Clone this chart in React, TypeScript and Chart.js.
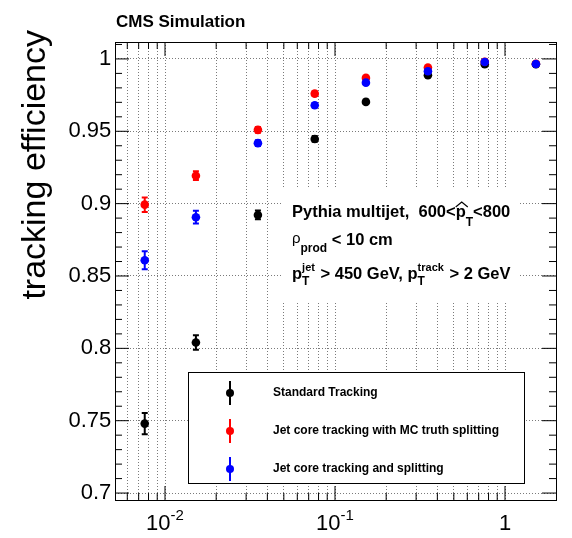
import React, { useEffect, useRef } from "react";
import { Chart, registerables } from "chart.js";

Chart.register(...registerables);

// ---------- data ----------
const xValues = [0.0076, 0.0152, 0.0352, 0.076, 0.152, 0.352, 0.76, 1.52];

const standardEff = [0.748, 0.804, 0.8922, 0.9447, 0.9703, 0.9887, 0.9963, 0.9963];
const standardErr = [0.0074, 0.005, 0.003, 0.002, 0.0015, 0.001, 0.001, 0.001];

const mcTruthEff = [0.8993, 0.9193, 0.951, 0.976, 0.9869, 0.994, 0.998, 0.9967];
const mcTruthErr = [0.005, 0.003, 0.002, 0.0015, 0.001, 0.001, 0.0008, 0.0008];

const splitEff = [0.8609, 0.8906, 0.9418, 0.968, 0.9836, 0.9915, 0.9979, 0.9965];
const splitErr = [0.0062, 0.0044, 0.002, 0.0015, 0.001, 0.001, 0.0008, 0.0008];

const legendLabels = [
  "Standard Tracking",
  "Jet core tracking with MC truth splitting",
  "Jet core tracking and splitting",
];
const seriesColors = ["#000000", "#ff0000", "#0000ff"];

const yMajorTicks = [0.7, 0.75, 0.8, 0.85, 0.9, 0.95, 1];
const yTickLabels = ["0.7", "0.75", "0.8", "0.85", "0.9", "0.95", "1"];
const xGridTicks = [
  0.006, 0.007, 0.008, 0.009,
  0.01, 0.02, 0.03, 0.04, 0.05, 0.06, 0.07, 0.08, 0.09,
  0.1, 0.2, 0.3, 0.4, 0.5, 0.6, 0.7, 0.8, 0.9,
  1,
];
const xMajorTicks = [0.01, 0.1, 1];
const xTickBase = ["10", "10", "1"];
const xTickExp = ["-2", "-1", ""];

const xMin = 0.00508;
const xMax = 1.995;
const yMin = 0.6952;
const yMax = 1.0117;

const FONT = '"Liberation Sans", Arial, Helvetica, sans-serif';
const MAIN = 16.5;

type Seg = { t: string; size: number; bold?: boolean; dy?: number };

function drawSegs(ctx: CanvasRenderingContext2D, x: number, y: number, segs: Seg[]) {
  let cx = x;
  for (const s of segs) {
    ctx.font = `${s.bold === false ? "" : "bold "}${s.size}px ${FONT}`;
    ctx.fillText(s.t, cx, y + (s.dy || 0));
    cx += ctx.measureText(s.t).width;
  }
  return cx;
}

function drawSupSub(ctx: CanvasRenderingContext2D, x: number, y: number, base: string, sup: string, sub: string) {
  ctx.font = `bold ${MAIN}px ${FONT}`;
  ctx.fillText(base, x, y);
  let cx = x + ctx.measureText(base).width;
  ctx.font = `bold 11px ${FONT}`;
  ctx.fillText(sup, cx, y - 8);
  const w1 = ctx.measureText(sup).width;
  ctx.font = `bold 12px ${FONT}`;
  ctx.fillText(sub, cx, y + 6);
  const w2 = ctx.measureText(sub).width;
  return cx + Math.max(w1, w2) + 1;
}

const errorsByDataset: number[][] = [splitErr, mcTruthErr, standardErr];
const valuesByDataset: number[][] = [splitEff, mcTruthEff, standardEff];

const rootPlugin = {
  id: "rootStyle",
  beforeDatasetsDraw(chart: any) {
    const ctx: CanvasRenderingContext2D = chart.ctx;
    ctx.save();
    ctx.fillStyle = "#ffffff";
    // text pave
    ctx.fillRect(281, 187, 238, 116);
    // legend box
    ctx.fillRect(188, 372, 336, 111);
    ctx.strokeStyle = "#000";
    ctx.lineWidth = 1;
    ctx.strokeRect(188.5, 372.5, 336, 111);
    ctx.restore();
  },
  beforeDatasetDraw(chart: any, args: any) {
    const ctx: CanvasRenderingContext2D = chart.ctx;
    const i = args.index;
    const xs = chart.scales.x;
    const ys = chart.scales.y;
    const vals = valuesByDataset[i];
    const errs = errorsByDataset[i];
    const color = chart.data.datasets[i].borderColor;
    ctx.save();
    ctx.strokeStyle = color;
    ctx.lineWidth = 2;
    xValues.forEach((xv, j) => {
      const px = xs.getPixelForValue(xv);
      const y1 = ys.getPixelForValue(vals[j] - errs[j]);
      const y2 = ys.getPixelForValue(vals[j] + errs[j]);
      ctx.beginPath();
      ctx.moveTo(px, y1);
      ctx.lineTo(px, y2);
      ctx.moveTo(px - 3, y1);
      ctx.lineTo(px + 3, y1);
      ctx.moveTo(px - 3, y2);
      ctx.lineTo(px + 3, y2);
      ctx.stroke();
    });
    ctx.restore();
  },
  afterDraw(chart: any) {
    const ctx: CanvasRenderingContext2D = chart.ctx;
    const a = chart.chartArea;
    const xs = chart.scales.x;
    const ys = chart.scales.y;
    ctx.save();
    // frame
    ctx.strokeStyle = "#000";
    ctx.lineWidth = 1;
    ctx.strokeRect(Math.round(a.left) + 0.5, Math.round(a.top) + 0.5, Math.round(a.right - a.left), Math.round(a.bottom - a.top));

    // y ticks
    ctx.beginPath();
    for (let k = 70; k <= 101; k++) {
      const v = k / 100;
      const py = ys.getPixelForValue(v);
      const major = k % 5 === 0;
      const len = major ? 14 : 7;
      ctx.moveTo(a.left, py);
      ctx.lineTo(a.left + len, py);
      ctx.moveTo(a.right, py);
      ctx.lineTo(a.right - len, py);
    }
    // x ticks
    xGridTicks.forEach((v) => {
      const px = xs.getPixelForValue(v);
      const major = xMajorTicks.includes(v);
      const len = major ? 14 : 7;
      ctx.moveTo(px, a.bottom);
      ctx.lineTo(px, a.bottom - len);
      ctx.moveTo(px, a.top);
      ctx.lineTo(px, a.top + len);
    });
    ctx.stroke();

    // y tick labels
    ctx.fillStyle = "#000";
    ctx.font = `22px ${FONT}`;
    ctx.textBaseline = "middle";
    ctx.textAlign = "left";
    yMajorTicks.forEach((v, i) => {
      const py = ys.getPixelForValue(v);
      const m = ctx.measureText(yTickLabels[i]);
      ctx.fillText(yTickLabels[i], 111 - m.actualBoundingBoxRight, py);
    });

    // x tick labels
    ctx.textBaseline = "alphabetic";
    xMajorTicks.forEach((v, i) => {
      const px = xs.getPixelForValue(v);
      ctx.font = `22px ${FONT}`;
      const wb = ctx.measureText(xTickBase[i]).width;
      ctx.font = `15px ${FONT}`;
      const we = xTickExp[i] ? ctx.measureText(xTickExp[i]).width : 0;
      const start = px - (wb + we) / 2;
      ctx.font = `22px ${FONT}`;
      ctx.fillText(xTickBase[i], start, 530);
      if (xTickExp[i]) {
        ctx.font = `15px ${FONT}`;
        ctx.fillText(xTickExp[i], start + wb, 520);
      }
    });

    // y title
    ctx.save();
    ctx.translate(45, 30);
    ctx.rotate(-Math.PI / 2);
    ctx.font = `34px ${FONT}`;
    ctx.textAlign = "right";
    ctx.textBaseline = "alphabetic";
    ctx.fillText("tracking efficiency", 0, 0);
    ctx.restore();

    // CMS Simulation
    ctx.textAlign = "left";
    ctx.font = `bold 17px ${FONT}`;
    ctx.fillText("CMS Simulation", 116, 27);

    // text pave
    let cx = drawSegs(ctx, 292, 217, [{ t: "Pythia multijet,  600<", size: MAIN }]);
    ctx.font = `bold ${MAIN}px ${FONT}`;
    const pw = ctx.measureText("p").width;
    ctx.fillText("p", cx, 217);
    ctx.beginPath();
    ctx.lineWidth = 1.2;
    ctx.moveTo(cx, 207);
    ctx.lineTo(cx + pw / 2 + 1, 202);
    ctx.lineTo(cx + pw + 2, 207);
    ctx.stroke();
    cx += pw;
    cx = drawSegs(ctx, cx, 217, [{ t: "T", size: 12, dy: 9 }, { t: "<800", size: MAIN }]);

    cx = drawSegs(ctx, 292, 245, [
      { t: "\u03c1", size: 15, bold: false, dy: -2 },
      { t: "prod", size: 12, dy: 7 },
      { t: " < 10 cm", size: MAIN },
    ]);

    cx = drawSupSub(ctx, 292, 279, "p", "jet", "T");
    cx = drawSegs(ctx, cx, 279, [{ t: " > 450 GeV, ", size: MAIN }]);
    cx = drawSupSub(ctx, cx, 279, "p", "track", "T");
    drawSegs(ctx, cx, 279, [{ t: " > 2 GeV", size: MAIN }]);

    // legend entries
    const legY = [393, 431, 469];
    const legX = 230;
    legendLabels.forEach((lab, i) => {
      const c = seriesColors[i];
      ctx.strokeStyle = c;
      ctx.fillStyle = c;
      ctx.lineWidth = 2;
      ctx.beginPath();
      ctx.moveTo(legX, legY[i] - 12);
      ctx.lineTo(legX, legY[i] + 12);
      ctx.stroke();
      ctx.beginPath();
      ctx.arc(legX, legY[i], 4, 0, Math.PI * 2);
      ctx.fill();
      ctx.fillStyle = "#000";
      ctx.font = `bold 12px ${FONT}`;
      ctx.textBaseline = "middle";
      ctx.fillText(lab, 273, legY[i]);
      ctx.textBaseline = "alphabetic";
    });
    ctx.restore();
  },
};

export default function App() {
  const ref = useRef<HTMLCanvasElement>(null);
  useEffect(() => {
    const canvas = ref.current!;
    const mk = (vals: number[]) => xValues.map((x, i) => ({ x, y: vals[i] }));
    const chart = new Chart(canvas, {
      type: "scatter",
      data: {
        datasets: [
          { label: legendLabels[2], data: mk(splitEff), backgroundColor: seriesColors[2], borderColor: seriesColors[2], pointRadius: 4.3, pointBorderWidth: 0, order: 0 },
          { label: legendLabels[1], data: mk(mcTruthEff), backgroundColor: seriesColors[1], borderColor: seriesColors[1], pointRadius: 4.3, pointBorderWidth: 0, order: 1 },
          { label: legendLabels[0], data: mk(standardEff), backgroundColor: seriesColors[0], borderColor: seriesColors[0], pointRadius: 4.3, pointBorderWidth: 0, order: 2 },
        ],
      },
      options: {
        responsive: false,
        animation: false,
        devicePixelRatio: 1,
        layout: { padding: { left: 115, right: 16, top: 42, bottom: 38 } },
        plugins: { legend: { display: false }, tooltip: { enabled: false } },
        scales: {
          x: {
            type: "logarithmic",
            min: xMin,
            max: xMax,
            afterBuildTicks: (s: any) => {
              s.ticks = xGridTicks.map((v) => ({ value: v }));
            },
            ticks: { display: false },
            grid: { drawTicks: false, color: "#7a7a7a", lineWidth: 1 },
            border: { display: false, dash: [1, 2] },
          },
          y: {
            type: "linear",
            min: yMin,
            max: yMax,
            afterBuildTicks: (s: any) => {
              s.ticks = yMajorTicks.map((v) => ({ value: v }));
            },
            ticks: { display: false },
            grid: { drawTicks: false, color: "#7a7a7a", lineWidth: 1 },
            border: { display: false, dash: [1, 2] },
          },
        },
      } as any,
      plugins: [rootPlugin as any],
    });
    return () => chart.destroy();
  }, []);
  return (
    <div style={{ position: "fixed", left: 0, top: 0, width: 572, height: 538, background: "#fff" }}>
      <canvas ref={ref} width={572} height={538} style={{ display: "block", width: 572, height: 538 }} />
    </div>
  );
}
